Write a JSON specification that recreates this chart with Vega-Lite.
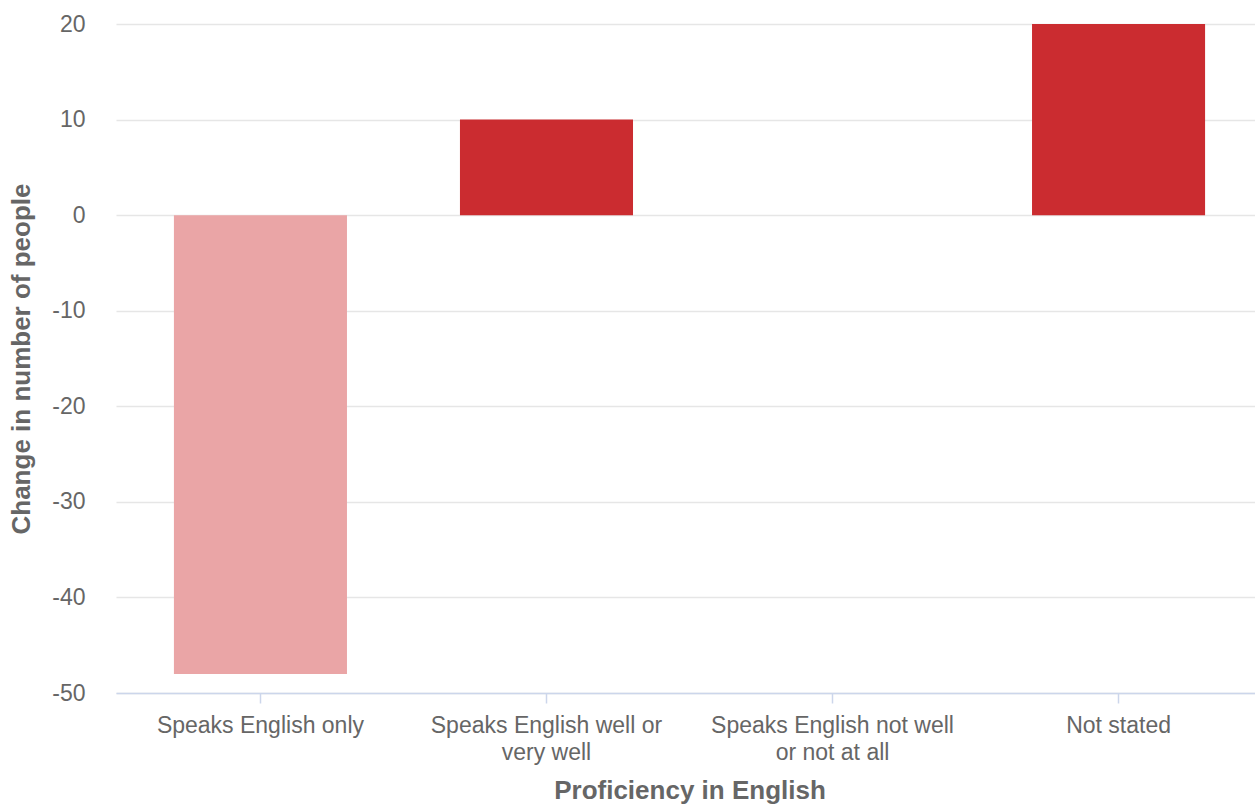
{
  "$schema": "https://vega.github.io/schema/vega-lite/v6.json",
  "autosize": "none",
  "width": 1139,
  "height": 669,
  "padding": {"left": 116, "top": 24, "right": 0, "bottom": 112},
  "background": "white",
  "config": {
    "view": {"stroke": null},
    "font": "Liberation Sans"
  },
  "data": {
    "values": [
      {"proficiency": "Speaks English only", "change": -48},
      {"proficiency": "Speaks English well or very well", "change": 10},
      {"proficiency": "Speaks English not well or not at all", "change": 0},
      {"proficiency": "Not stated", "change": 20}
    ]
  },
  "mark": {"type": "bar"},
  "encoding": {
    "x": {
      "field": "proficiency",
      "type": "nominal",
      "sort": null,
      "scale": {"paddingInner": 0.395, "paddingOuter": 0.2025, "range": [0, 1147]},
      "axis": {
        "title": "Proficiency in English",
        "titleFont": "Liberation Sans",
        "titleFontSize": 26,
        "titleFontWeight": "bold",
        "titleColor": "#666666",
        "titlePadding": 13,
        "labelAngle": 0,
        "labelFontSize": 23,
        "labelColor": "#666666",
        "labelLineHeight": 27,
        "labelPadding": 11,
        "labelLimit": 0,
        "labelExpr": "datum.label == 'Speaks English well or very well' ? ['Speaks English well or', 'very well'] : datum.label == 'Speaks English not well or not at all' ? ['Speaks English not well', 'or not at all'] : datum.label",
        "domainColor": "#ccd6eb",
        "domainWidth": 1.5,
        "tickColor": "#ccd6eb",
        "tickSize": 10,
        "tickWidth": 1.5,
        "grid": false
      }
    },
    "y": {
      "field": "change",
      "type": "quantitative",
      "scale": {"domain": [-50, 20], "nice": false},
      "axis": {
        "title": "Change in number of people",
        "titleFont": "Liberation Sans",
        "titleFontSize": 26,
        "titleFontWeight": "bold",
        "titleColor": "#666666",
        "titlePadding": 17,
        "values": [-50, -40, -30, -20, -10, 0, 10, 20],
        "labelExpr": "'' + datum.value",
        "labelFontSize": 23,
        "labelColor": "#666666",
        "labelPadding": 31,
        "ticks": false,
        "domain": false,
        "grid": true,
        "gridColor": "#e6e6e6",
        "gridWidth": 1.5
      }
    },
    "color": {
      "condition": {"test": "datum.change < 0", "value": "#eaa5a6"},
      "value": "#cb2c30"
    }
  }
}
